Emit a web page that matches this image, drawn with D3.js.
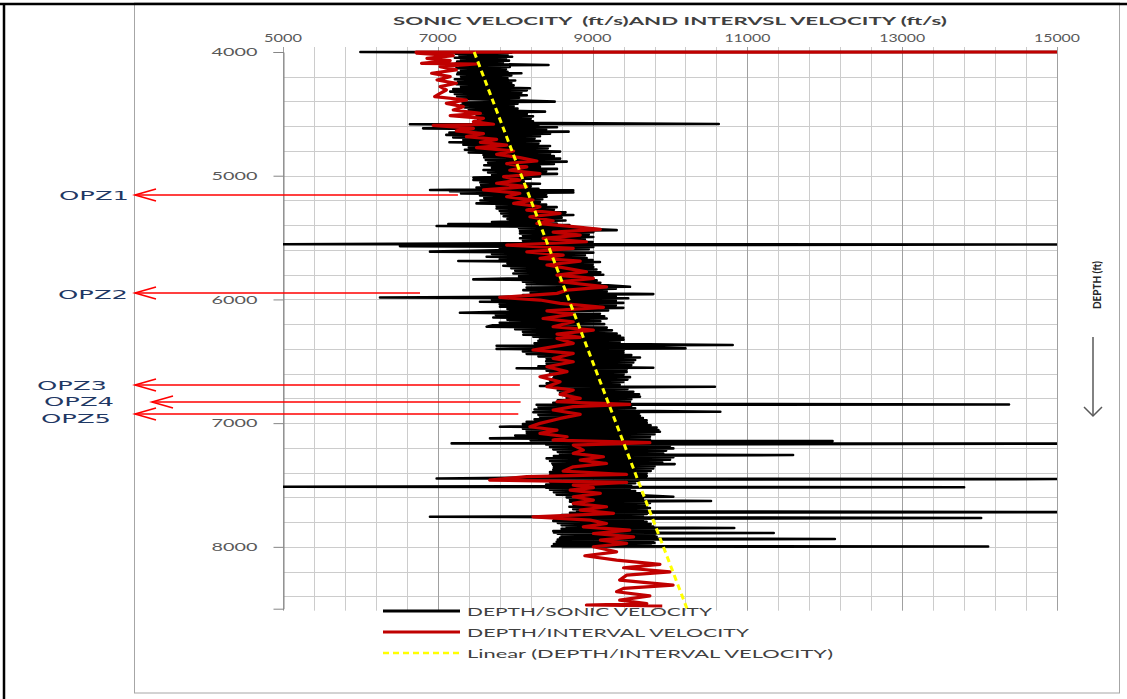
<!DOCTYPE html>
<html><head>
<meta charset="utf-8">
<script src="https://cdn.jsdelivr.net/npm/d3@7"></script>
<style>
  body { margin: 0; background: #fff; }
  svg text { font-family: Lato, "Open Sans", sans-serif; }
  .grid line { stroke: #cccccc; stroke-width: 1; }
  .grid line.major { stroke: #a0a0a0; }
  .tick-label { fill: #595959; font-size: 12px; }
  .legend text { fill: #404040; font-size: 12px; }
  .opz { fill: #1f3864; font-size: 13px; font-family: "DejaVu Sans", sans-serif !important; }
</style>
</head><body>
<svg id="chart" width="1127" height="699"></svg>
<script>
// axis ticks
const velTicks = [5000, 7000, 9000, 11000, 13000, 15000];
const depthTicks = [4000, 5000, 6000, 7000, 8000];

// [depth ft, sonic velocity ft/s]
const sonic = [
  [4000,15000],[4000,6000],[4006,7950],[4014,7230],[4022,7900],[4030,7280],[4038,7960],[4046,7220],[4054,7880],[4062,7300],
  [4070,7920],[4078,7250],[4086,7840],[4094,7230],[4105,8430],[4110,7280],[4120,7930],[4130,7240],[4140,7880],[4150,7300],
  [4160,7900],[4166,7260],[4172,8080],[4180,7250],[4190,7950],[4200,7300],[4210,7900],[4220,7220],[4230,8000],[4240,7260],
  [4250,7950],[4260,7240],[4270,7980],[4280,7300],[4293,8190],[4300,7200],[4310,8150],[4320,7160],[4330,8080],[4340,7220],
  [4350,8150],[4360,7250],[4370,8050],[4380,7290],[4390,8000],[4401,8510],[4408,7320],[4418,8030],[4428,7300],[4438,7980],
  [4448,7350],[4458,8030],[4468,7400],[4482,8385],[4490,7460],[4500,8150],[4510,7500],[4520,8230],[4530,7460],[4540,8200],
  [4550,7520],[4560,8230],[4570,7480],[4582,10630],[4584,6640],[4592,8300],[4600,7200],[4608,8540],[4617,6810],[4626,8400],
  [4634,7300],[4644,8690],[4652,7150],[4660,8450],[4670,7110],[4680,8320],[4690,7200],[4700,8250],[4711,7330],[4720,8320],
  [4730,7150],[4740,8300],[4750,7330],[4760,8450],[4770,7400],[4780,8420],[4790,7350],[4805,8580],[4812,7400],[4822,8450],
  [4832,7590],[4842,8500],[4852,7600],[4862,8580],[4872,7620],[4886,8665],[4895,7650],[4905,8500],[4915,7600],[4927,8320],
  [4935,7700],[4945,8540],[4954,7590],[4964,8400],[4974,7650],[4985,8540],[4994,7700],[5005,8320],[5015,7460],[5025,8200],
  [5035,7460],[5045,8110],[5055,7550],[5065,8320],[5075,7560],[5085,8200],[5095,7500],[5105,8300],[5115,6900],[5117,8750],
  [5125,7157],[5135,8751],[5143,7300],[5150,8400],[5160,7545],[5170,8406],[5180,7600],[5190,8350],[5200,7550],[5212,8320],
  [5224,7500],[5234,8400],[5244,7760],[5254,8536],[5264,7760],[5274,8500],[5284,7800],[5296,8650],[5306,7820],[5318,8751],
  [5328,7850],[5340,8600],[5350,7900],[5362,8650],[5374,7700],[5386,8536],[5390,7136],[5398,8700],[5407,6985],[5414,8751],
  [5424,8050],[5432,9000],[5440,9311],[5446,8062],[5456,9009],[5466,8062],[5476,8950],[5486,8100],[5496,9009],[5506,8062],
  [5516,8900],[5526,8100],[5536,9000],[5546,8200],[5554,5000],[5556,15000],[5562,8100],[5569,6511],[5576,9009],[5584,7800],
  [5594,8950],[5604,7600],[5614,6899],[5622,9009],[5632,7700],[5642,8900],[5655,7631],[5665,8923],[5675,7800],[5682,9000],
  [5690,7265],[5698,9095],[5708,7900],[5718,9000],[5728,7846],[5738,9009],[5748,7950],[5758,9050],[5768,8000],[5780,9100],
  [5790,7976],[5800,9138],[5812,8050],[5824,9000],[5832,7900],[5838,7459],[5846,9052],[5856,8100],[5866,9100],[5876,8148],
  [5886,9200],[5898,9483],[5904,8148],[5914,9300],[5925,8105],[5935,9182],[5945,8200],[5957,9784],[5964,8100],[5974,9300],
  [5984,6253],[5990,9461],[6000,7700],[6010,9300],[6019,7545],[6028,9397],[6038,7800],[6048,9300],[6059,7803],[6068,9397],
  [6078,7900],[6090,9200],[6100,7800],[6108,7286],[6116,9095],[6126,7750],[6136,9150],[6146,7717],[6154,9182],[6164,7900],
  [6176,9100],[6188,7800],[6200,9150],[6210,7700],[6221,7631],[6228,9182],[6240,8000],[6250,9250],[6262,8100],[6275,9311],
  [6285,8105],[6295,9354],[6302,8234],[6310,9397],[6315,8320],[6325,9400],[6335,8300],[6345,9350],[6355,8250],[6369,10810],
  [6375,7760],[6385,9500],[6396,10200],[6400,7760],[6410,9400],[6420,8100],[6430,9397],[6440,8148],[6450,9500],[6460,8300],
  [6470,9612],[6480,8406],[6490,9550],[6500,8400],[6510,9526],[6520,8406],[6530,9500],[6540,8300],[6552,9784],[6556,8019],
  [6566,9440],[6576,8406],[6586,9440],[6596,8450],[6606,9400],[6616,8500],[6628,9483],[6638,8492],[6648,9450],[6658,8450],
  [6668,9397],[6679,8406],[6690,9350],[6700,8320],[6706,10580],[6714,8500],[6724,9450],[6734,8550],[6746,9526],[6756,8579],
  [6766,9600],[6776,8650],[6786,9612],[6796,8665],[6806,9500],[6816,8550],[6827,9483],[6836,8492],[6843,9400],[6849,14380],
  [6852,8277],[6860,9500],[6870,8300],[6880,9550],[6890,8250],[6900,9500],[6908,10650],[6912,8234],[6922,9600],[6932,8300],
  [6940,9612],[6948,8320],[6958,9650],[6968,8250],[6978,9698],[6989,8148],[6998,9700],[7008,8100],[7018,9750],[7029,7803],
  [7036,9827],[7046,8100],[7056,9850],[7064,8148],[7070,9870],[7080,8150],[7090,9800],[7100,8000],[7110,9741],[7123,7674],
  [7132,9741],[7140,8200],[7145,12100],[7150,8300],[7158,9800],[7164,7179],[7166,15000],[7172,8400],[7182,10000],[7192,8450],
  [7204,10043],[7212,8492],[7222,9950],[7232,8550],[7245,9913],[7252,8579],[7258,11590],[7266,8500],[7276,10043],[7285,8406],
  [7295,10000],[7305,8450],[7318,9900],[7326,8480],[7331,10060],[7338,8492],[7348,9800],[7358,8500],[7366,9784],[7376,8492],
  [7386,9750],[7396,8450],[7406,9698],[7416,8450],[7428,9700],[7438,8400],[7447,6985],[7452,15000],[7458,8500],[7466,9600],
  [7476,8450],[7486,9550],[7496,8400],[7508,9500],[7514,5000],[7518,13800],[7522,8400],[7528,9483],[7538,8450],[7548,9550],
  [7558,8500],[7568,9612],[7578,8536],[7586,9700],[7595,10043],[7600,8665],[7610,9650],[7620,8708],[7630,10530],[7636,8708],
  [7646,9741],[7656,8750],[7666,9700],[7676,8700],[7686,9741],[7696,8750],[7706,9700],[7712,8800],[7719,15000],[7724,8708],
  [7734,9700],[7744,8600],[7752,9650],[7757,6899],[7762,9500],[7767,14020],[7772,8500],[7782,9650],[7790,8492],[7797,9698],
  [7806,8550],[7816,9750],[7826,8600],[7836,9784],[7840,8665],[7848,10830],[7854,8600],[7864,9800],[7872,8492],[7878,9827],
  [7884,8500],[7888,11340],[7894,8550],[7904,9800],[7912,8600],[7919,9827],[7926,8579],[7932,9800],[7937,12130],[7942,8550],
  [7950,9784],[7959,8536],[7968,9800],[7978,8500],[7986,9750],[7995,8475],[7997,14110],[8000,8600]
];

// [depth ft, interval velocity ft/s]
const interval = [
  [4000,15000],[4001,6720],[4010,6730],[4029,7200],[4051,6860],[4070,7160],[4092,6790],[4097,7500],[4118,7030],[4145,7240],
  [4172,6920],[4199,7160],[4226,6990],[4253,7240],[4280,7030],[4307,7110],[4334,7030],[4361,6960],[4388,7370],[4415,7110],
  [4442,7330],[4469,7200],[4496,7550],[4514,7160],[4536,7590],[4563,7460],[4584,7720],[4593,6940],[4617,7460],[4638,7240],
  [4660,7590],[4684,7370],[4706,7760],[4730,7550],[4752,7890],[4773,7500],[4800,7980],[4827,7760],[4854,8060],[4881,8280],
  [4902,7890],[4929,8150],[4956,7930],[4983,8320],[5008,7850],[5035,8060],[5061,7760],[5088,8150],[5115,7590],[5142,8060],
  [5170,7890],[5197,8230],[5224,7980],[5251,8320],[5278,8150],[5305,8580],[5332,8190],[5364,8490],[5386,8280],[5412,8750],
  [5434,9100],[5456,8490],[5480,8840],[5507,8360],[5534,8920],[5561,7890],[5588,8750],[5615,8150],[5642,8620],[5668,8320],
  [5690,8840],[5722,8410],[5749,8670],[5776,8920],[5803,8540],[5830,9010],[5857,8580],[5898,9180],[5925,8670],[5951,8540],
  [5984,7800],[6005,8320],[6032,8580],[6065,9140],[6092,8410],[6119,8750],[6154,8360],[6181,8750],[6221,8490],[6248,9010],
  [6280,8540],[6307,8840],[6315,8540],[6355,8750],[6409,8230],[6436,8750],[6477,8490],[6504,8750],[6544,8410],[6584,8670],
  [6625,8320],[6665,8580],[6706,8410],[6733,8750],[6768,8580],[6800,8840],[6827,8540],[6849,9480],[6867,8750],[6894,8490],
  [6929,8840],[6962,8580],[7002,8320],[7029,8190],[7056,8540],[7083,8320],[7110,8670],[7137,8490],[7158,9740],[7177,8750],
  [7218,8880],[7245,8750],[7272,9140],[7299,8840],[7326,9180],[7353,8750],[7388,8620],[7415,9440],[7433,8150],[7460,7670],
  [7479,9440],[7501,8750],[7522,9010],[7541,8710],[7568,9100],[7595,8750],[7622,9010],[7649,8750],[7676,9180],[7703,8840],
  [7730,9270],[7757,8230],[7784,8970],[7811,9180],[7838,8880],[7865,9480],[7892,9010],[7919,9530],[7946,9100],[7972,9440],
  [7999,9010],[8040,9310],[8072,8900],[8107,9310],[8142,9870],[8169,9400],[8202,10000],[8229,9440],[8269,9350],[8309,10040],
  [8336,9400],[8363,9310],[8396,9740],[8431,9350],[8458,9700],[8470,8920],[8478,9900]
];

// linear trend of interval velocity
const trendDepth = [4000, 8500];
const trendVel = [7470, 10220];

// over-pressure zones
const opzNames = ["OPZ1", "OPZ2", "OPZ3", "OPZ4", "OPZ5"];
const opzDepth = [5156, 5948, 6692, 6829, 6926];
const opzEndVel = [7260, 6770, 8060, 8070, 8040];

const legendNames = ["DEPTH/SONIC VELOCITY", "DEPTH/INTERVAL VELOCITY", "Linear (DEPTH/INTERVAL VELOCITY)"];

const svg = d3.select("#chart");
const plot = {left: 283, right: 1057, top: 52, bottom: 608.7};

const x = d3.scaleLinear().domain([5000, 15000]).range([plot.left, plot.right]);
const y = d3.scaleLinear().domain([4000, 8500]).range([plot.top, plot.bottom]);

svg.append("rect").attr("width", 1127).attr("height", 699).attr("fill", "#fff");

// frames
svg.append("rect").attr("x", 134.5).attr("y", 3).attr("width", 985).attr("height", 690)
   .attr("fill", "none").attr("stroke", "#a6a6a6").attr("stroke-width", 1);
svg.append("line").attr("x1", 0).attr("x2", 1127).attr("y1", 4).attr("y2", 4)
   .attr("stroke", "#000").attr("stroke-width", 2.5);
svg.append("line").attr("x1", 4).attr("x2", 4).attr("y1", 3).attr("y2", 699)
   .attr("stroke", "#000").attr("stroke-width", 2.5);

// gridlines
let grid = svg.append("g").attr("class", "grid");
grid.selectAll("line.h").data(d3.range(4200, 8500, 200)).join("line")
    .attr("class", "h")
    .attr("x1", plot.left).attr("x2", plot.right)
    .attr("y1", d => Math.round(y(d)) + 0.5).attr("y2", d => Math.round(y(d)) + 0.5);
grid.selectAll("line.v").data(d3.range(5000, 15001, 400)).join("line")
    .attr("class", d => (d - 5000) % 2000 == 0 ? "v major" : "v")
    .attr("y1", plot.top - 5).attr("y2", plot.bottom + 2)
    .attr("x1", d => Math.round(x(d)) + 0.5).attr("x2", d => Math.round(x(d)) + 0.5);

// left (depth) axis
let yAxis = d3.axisLeft(y).tickValues(depthTicks).tickSize(10).tickFormat(d3.format("d"));
let yg = svg.append("g").attr("transform", "translate(" + (plot.left + 0.5) + ",0)").call(yAxis);
yg.select(".domain").attr("stroke", "#868686");
yg.selectAll(".tick line").attr("stroke", "#868686");
yg.selectAll(".tick text").attr("class", "tick-label").attr("x", -26)
  .attr("font-size", null).attr("font-family", null)
  .attr("textLength", 46).attr("lengthAdjust", "spacingAndGlyphs");

// top (velocity) labels
svg.append("g").selectAll("text").data(velTicks).join("text")
   .attr("class", "tick-label")
   .attr("x", d => x(d)).attr("y", 42)
   .attr("text-anchor", "middle")
   .attr("textLength", d => d >= 10000 ? 46 : 38).attr("lengthAdjust", "spacingAndGlyphs")
   .text(d => d);

// title
svg.append("text").attr("x", 393).attr("y", 25)
   .attr("font-weight", "bold").attr("font-size", 12).attr("fill", "#404040")
   .attr("textLength", 554).attr("lengthAdjust", "spacingAndGlyphs")
   .attr("xml:space", "preserve")
   .text("SONIC VELOCITY  (ft/s)AND INTERVSL VELOCITY (ft/s)");

// data
svg.append("clipPath").attr("id", "clip").append("rect")
   .attr("x", plot.left).attr("y", plot.top - 3)
   .attr("width", plot.right - plot.left).attr("height", plot.bottom - plot.top + 3);

let line = d3.line().x(d => x(d[1])).y(d => y(d[0]));
let data = svg.append("g").attr("clip-path", "url(#clip)");

data.append("path").datum(sonic).attr("d", line)
    .attr("fill", "none").attr("stroke", "#000").attr("stroke-width", 2.6)
    .attr("stroke-linejoin", "round");
data.append("path").datum(interval).attr("d", line)
    .attr("fill", "none").attr("stroke", "#c00000").attr("stroke-width", 3.2)
    .attr("stroke-linejoin", "round");
data.append("path").datum(trendDepth.map((d, i) => [d, trendVel[i]])).attr("d", line)
    .attr("fill", "none").attr("stroke", "#ffff00").attr("stroke-width", 3)
    .attr("stroke-dasharray", "6,4");

// OPZ arrows
const tipX = [135, 135, 135, 152, 135];
const labelRight = [129, 128, 107, 114, 111];
const labelBase = [200, 299, 390, 406, 423];
opzNames.forEach((name, i) => {
  let yy = y(opzDepth[i]);
  let g = svg.append("g").attr("stroke", "#ff0000").attr("stroke-width", 1.6).attr("fill", "none");
  g.append("line").attr("x1", tipX[i]).attr("x2", x(opzEndVel[i])).attr("y1", yy).attr("y2", yy);
  g.append("path").attr("d", "M" + (tipX[i] + 21) + "," + (yy - 6) + "L" + tipX[i] + "," + yy + "L" + (tipX[i] + 21) + "," + (yy + 6));
  svg.append("text").attr("class", "opz")
     .attr("x", labelRight[i] - 70).attr("y", labelBase[i])
     .attr("textLength", 70).attr("lengthAdjust", "spacingAndGlyphs")
     .text(name);
});

// depth label and arrow on the right
svg.append("text").attr("transform", "translate(1101,285) rotate(-90)")
   .attr("text-anchor", "middle").attr("font-weight", "bold").attr("font-size", 11)
   .attr("fill", "#262626").attr("textLength", 48).attr("lengthAdjust", "spacingAndGlyphs")
   .text("DEPTH (ft)");
let ar = svg.append("g").attr("stroke", "#595959").attr("stroke-width", 1.5).attr("fill", "none");
ar.append("line").attr("x1", 1093).attr("x2", 1093).attr("y1", 337).attr("y2", 415);
ar.append("path").attr("d", "M1084,407L1093,416L1102,407");

// legend
const legendColor = ["#000", "#c00000", "#ffff00"];
const legendWidth = [245, 282, 366];
let lg = svg.append("g").attr("class", "legend");
legendNames.forEach((name, i) => {
  let ly = 611 + i * 21;
  lg.append("line").attr("x1", 383).attr("x2", 460).attr("y1", ly).attr("y2", ly)
    .attr("stroke", legendColor[i]).attr("stroke-width", i == 2 ? 2.5 : 3)
    .attr("stroke-dasharray", i == 2 ? "6,4" : null);
  lg.append("text").attr("x", 467).attr("y", ly + 4.5)
    .attr("textLength", legendWidth[i]).attr("lengthAdjust", "spacingAndGlyphs")
    .text(name);
});
</script>
</body></html>
